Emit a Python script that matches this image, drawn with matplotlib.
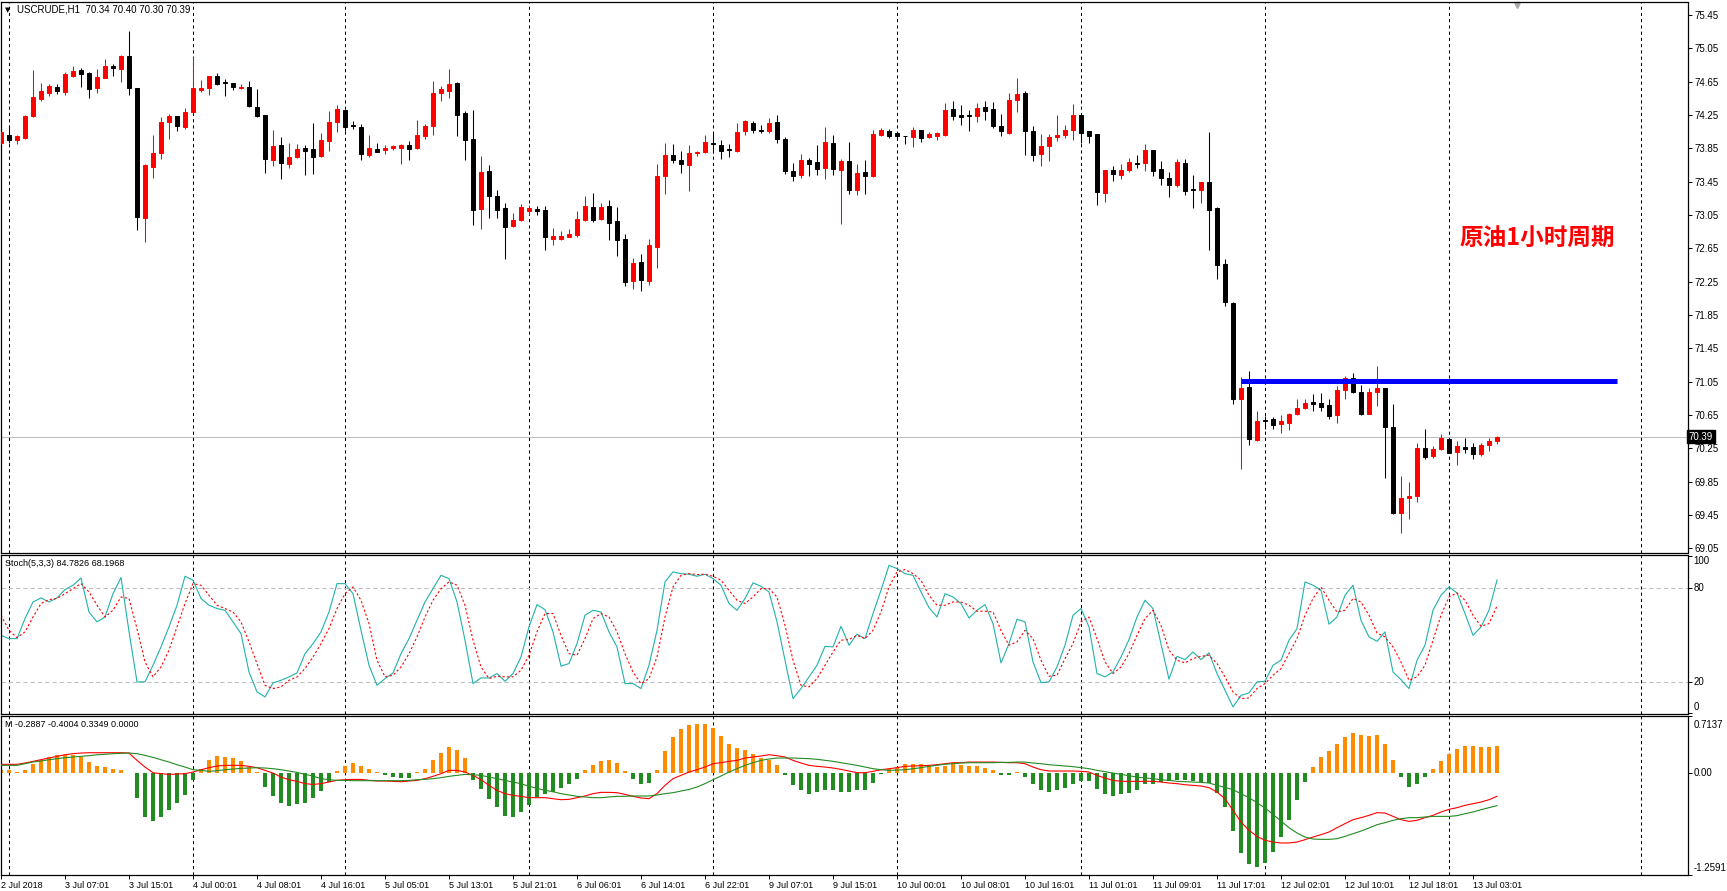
import numpy as np
import matplotlib
matplotlib.use("Agg")
import matplotlib.pyplot as plt
from matplotlib.transforms import blended_transform_factory

# USCRUDE H1 candles, 2 Jul 2018 .. 13 Jul 06:01 (one value per hourly bar)
opens = [73.913, 74.013, 73.943, 73.971, 74.231, 74.439, 74.511, 74.587, 74.523, 74.715,
         74.783, 74.755, 74.567, 74.691, 74.831, 74.799, 74.951, 74.567, 73.007, 73.623,
         73.787, 74.159, 74.239, 74.099, 74.279, 74.543, 74.567, 74.711, 74.639, 74.627,
         74.575, 74.587, 74.347, 74.251, 73.703, 73.883, 73.659, 73.739, 73.847, 73.835,
         73.751, 73.935, 74.159, 74.303, 74.123, 74.107, 73.763, 73.835, 73.831, 73.851,
         73.851, 73.883, 73.851, 73.995, 74.115, 74.515, 74.531, 74.627, 74.267, 73.963,
         73.115, 73.571, 73.271, 73.127, 72.915, 72.983, 73.091, 73.115, 73.111, 72.763,
         72.759, 72.787, 72.803, 72.987, 73.147, 72.995, 73.151, 72.971, 72.755, 72.255,
         72.479, 72.255, 72.663, 73.515, 73.763, 73.703, 73.647, 73.787, 73.807, 73.915,
         73.891, 73.835, 73.815, 74.051, 74.155, 74.063, 74.051, 74.159, 73.955, 73.579,
         73.527, 73.703, 73.679, 73.611, 73.915, 73.583, 73.699, 73.347, 73.559, 73.511,
         74.003, 74.051, 74.027, 73.999, 73.983, 74.071, 73.983, 73.995, 74.003, 74.315,
         74.243, 74.243, 74.235, 74.339, 74.315, 74.111, 74.035, 74.427, 74.507, 74.051,
         73.775, 73.875, 73.983, 74.003, 74.063, 74.243, 74.051, 74.015, 73.311, 73.583,
         73.527, 73.583, 73.671, 73.671, 73.823, 73.595, 73.487, 73.407, 73.667, 73.359,
         73.347, 73.439, 73.127, 72.455, 71.991, 70.838, 70.986, 70.346, 70.586, 70.598,
         70.546, 70.558, 70.662, 70.734, 70.806, 70.794, 70.770, 70.650, 70.950, 71.094,
         70.926, 70.666, 70.926, 70.974, 70.510, 69.473, 69.653, 69.677, 70.254, 70.158,
         70.242, 70.362, 70.210, 70.266, 70.266, 70.186, 70.290, 70.34]
highs = [74.050, 74.105, 74.003, 74.243, 74.783, 74.627, 74.615, 74.615, 74.763, 74.835,
         74.815, 74.763, 74.803, 74.915, 74.855, 74.963, 75.251, 74.575, 73.655, 74.003,
         74.223, 74.255, 74.239, 74.327, 74.943, 74.667, 74.711, 74.747, 74.675, 74.635,
         74.615, 74.651, 74.563, 74.251, 74.063, 73.979, 73.907, 73.895, 73.887, 74.155,
         74.035, 74.291, 74.363, 74.303, 74.171, 74.135, 74.003, 73.907, 73.891, 73.891,
         73.895, 73.939, 74.183, 74.143, 74.655, 74.595, 74.795, 74.643, 74.291, 74.303,
         73.751, 73.643, 73.343, 73.187, 73.067, 73.175, 73.167, 73.155, 73.155, 72.895,
         72.851, 72.875, 73.099, 73.271, 73.307, 73.187, 73.223, 73.139, 72.815, 72.527,
         72.575, 72.755, 73.655, 73.915, 73.903, 73.811, 73.887, 73.815, 74.003, 74.035,
         73.943, 73.903, 74.147, 74.187, 74.175, 74.123, 74.211, 74.243, 73.979, 73.675,
         73.775, 73.727, 73.883, 74.099, 74.003, 73.723, 73.927, 73.655, 73.703, 74.063,
         74.087, 74.075, 74.043, 73.999, 74.099, 74.071, 74.047, 74.043, 74.387, 74.419,
         74.363, 74.303, 74.387, 74.419, 74.399, 74.255, 74.507, 74.687, 74.531, 74.111,
         74.015, 74.015, 74.243, 74.123, 74.375, 74.255, 74.051, 74.015, 73.583, 73.635,
         73.655, 73.727, 73.763, 73.895, 73.823, 73.691, 73.559, 73.715, 73.715, 73.523,
         73.439, 74.043, 73.143, 72.515, 71.999, 71.110, 71.182, 70.698, 70.638, 70.626,
         70.650, 70.674, 70.842, 70.842, 70.902, 70.914, 70.842, 70.998, 71.118, 71.154,
         71.010, 70.974, 71.239, 70.974, 70.782, 69.917, 69.845, 70.314, 70.482, 70.278,
         70.422, 70.362, 70.338, 70.374, 70.314, 70.314, 70.374, 70.40]
lows = [73.895, 73.913, 73.903, 73.955, 74.227, 74.419, 74.471, 74.499, 74.483, 74.699,
        74.583, 74.451, 74.507, 74.687, 74.715, 74.643, 74.487, 72.867, 72.723, 73.487,
        73.715, 73.963, 74.051, 74.075, 74.271, 74.523, 74.491, 74.603, 74.471, 74.543,
        74.555, 74.343, 74.219, 73.551, 73.635, 73.479, 73.611, 73.727, 73.527, 73.539,
        73.743, 73.811, 74.043, 74.055, 74.075, 73.707, 73.743, 73.803, 73.783, 73.827,
        73.659, 73.707, 73.835, 73.955, 74.007, 74.415, 74.455, 73.995, 73.707, 72.927,
        72.875, 73.007, 73.007, 72.519, 72.903, 72.971, 73.043, 73.043, 72.627, 72.687,
        72.747, 72.779, 72.783, 72.975, 72.963, 72.983, 72.747, 72.555, 72.195, 72.159,
        72.135, 72.207, 72.411, 73.299, 73.667, 73.551, 73.335, 73.755, 73.795, 73.787,
        73.719, 73.743, 73.803, 74.003, 74.027, 74.027, 74.031, 73.907, 73.535, 73.455,
        73.487, 73.515, 73.527, 73.475, 73.527, 72.935, 73.303, 73.287, 73.299, 73.503,
        73.991, 73.971, 73.971, 73.895, 73.863, 73.919, 73.975, 73.947, 73.991, 74.183,
        74.127, 74.055, 74.159, 74.187, 74.095, 73.995, 74.019, 74.283, 73.763, 73.695,
        73.635, 73.691, 73.935, 73.971, 73.943, 73.907, 73.907, 73.167, 73.203, 73.455,
        73.475, 73.563, 73.611, 73.575, 73.515, 73.407, 73.263, 73.383, 73.287, 73.131,
        73.191, 72.627, 72.283, 71.951, 70.782, 70.001, 70.294, 70.338, 70.486, 70.486,
        70.438, 70.470, 70.646, 70.718, 70.702, 70.698, 70.602, 70.554, 70.842, 70.914,
        70.650, 70.666, 70.758, 69.897, 69.461, 69.237, 69.405, 69.609, 70.126, 70.138,
        70.234, 70.190, 70.050, 70.194, 70.126, 70.162, 70.222, 70.30]
closes = [74.041, 73.945, 73.995, 74.235, 74.459, 74.531, 74.591, 74.535, 74.735, 74.771,
          74.739, 74.559, 74.707, 74.831, 74.815, 74.951, 74.571, 73.023, 73.647, 73.787,
          74.159, 74.235, 74.115, 74.279, 74.567, 74.567, 74.711, 74.619, 74.631, 74.583,
          74.587, 74.351, 74.231, 73.719, 73.871, 73.671, 73.739, 73.835, 73.815, 73.743,
          73.943, 74.159, 74.315, 74.103, 74.111, 73.779, 73.847, 73.807, 73.851, 73.875,
          73.887, 73.839, 74.003, 74.115, 74.507, 74.559, 74.615, 74.247, 73.947, 73.107,
          73.559, 73.275, 73.107, 72.899, 72.983, 73.147, 73.127, 73.091, 72.783, 72.791,
          72.791, 72.815, 72.995, 73.159, 72.987, 73.139, 72.951, 72.747, 72.243, 72.467,
          72.267, 72.683, 73.511, 73.763, 73.707, 73.659, 73.787, 73.807, 73.927, 73.899,
          73.815, 73.827, 74.047, 74.171, 74.071, 74.051, 74.147, 73.959, 73.575, 73.515,
          73.711, 73.659, 73.599, 73.927, 73.599, 73.691, 73.347, 73.547, 73.515, 74.023,
          74.063, 73.995, 73.995, 73.991, 74.063, 73.971, 74.015, 74.027, 74.303, 74.235,
          74.227, 74.235, 74.327, 74.295, 74.111, 74.055, 74.423, 74.495, 74.055, 73.767,
          73.871, 73.983, 74.003, 74.063, 74.243, 74.031, 73.995, 73.323, 73.583, 73.539,
          73.583, 73.679, 73.659, 73.823, 73.575, 73.491, 73.407, 73.679, 73.335, 73.347,
          73.439, 73.107, 72.447, 71.999, 70.846, 70.974, 70.366, 70.574, 70.574, 70.534,
          70.574, 70.662, 70.734, 70.794, 70.786, 70.750, 70.638, 70.950, 71.094, 70.926,
          70.666, 70.926, 70.974, 70.510, 69.473, 69.653, 69.677, 70.254, 70.150, 70.242,
          70.374, 70.194, 70.278, 70.246, 70.186, 70.290, 70.338, 70.39]

# Stoch(5,3,3): %K (main) and %D (signal)
stoch_k = [49.5, 47.4, 47.4, 60.2, 70.8, 73.4, 70.8, 73.4, 78.7, 81.5, 86.1, 64.4, 58.1, 61.2,
           76.1, 86.4, 52.0, 19.8, 19.8, 30.4, 42.1, 54.9, 68.7, 87.2, 84.7, 73.0, 68.7, 66.6,
           65.5, 58.1, 50.6, 26.1, 13.4, 10.2, 19.1, 20.8, 22.9, 25.5, 37.8, 44.2, 51.7, 64.4,
           82.5, 82.5, 76.1, 52.7, 30.4, 17.6, 21.9, 25.5, 37.8, 47.4, 59.1, 70.8, 79.3, 87.8,
           85.7, 70.8, 46.4, 18.7, 22.3, 22.3, 25.1, 20.2, 25.1, 35.7, 54.9, 69.1, 65.9, 51.7,
           29.8, 31.5, 44.2, 62.3, 65.5, 64.4, 51.7, 42.1, 18.7, 18.7, 15.5, 30.4, 52.7, 83.6,
           90.0, 88.9, 88.5, 87.2, 88.5, 85.7, 81.5, 69.8, 65.5, 73.0, 83.0, 80.8, 77.2, 58.1,
           33.6, 9.1, 15.5, 22.9, 30.4, 42.5, 42.1, 55.3, 43.2, 50.2, 47.4, 63.4, 78.3, 94.2,
           92.1, 88.9, 87.8, 77.2, 67.2, 61.2, 76.1, 74.0, 69.8, 60.6, 65.5, 69.1, 57.0, 31.9,
           44.2, 59.8, 58.1, 32.5, 19.3, 19.8, 29.3, 43.2, 62.3, 66.6, 54.9, 25.1, 23.0, 26.1,
           35.7, 46.8, 61.2, 71.9, 66.6, 44.2, 21.5, 36.1, 34.0, 38.9, 34.0, 38.3, 25.1, 14.4,
           3.8, 11.2, 12.7, 19.8, 20.2, 30.4, 33.6, 46.4, 53.8, 83.6, 81.5, 78.3, 56.6, 61.2,
           75.1, 81.5, 59.1, 48.5, 45.7, 51.7, 26.1, 21.2, 15.5, 33.6, 43.2, 65.5, 75.1, 80.4,
           76.6, 63.4, 49.5, 54.9, 65.5, 84.8]
stoch_d = [62.3, 52.7, 48.0, 51.7, 61.2, 69.8, 72.3, 73.0, 76.1, 79.3, 82.5, 77.2, 68.7, 61.2,
           65.5, 74.0, 73.0, 53.8, 32.5, 23.0, 29.3, 40.0, 54.9, 69.8, 82.5, 81.5, 75.1, 68.7,
           66.6, 64.4, 58.1, 45.3, 31.5, 17.6, 15.5, 16.6, 20.8, 22.9, 28.3, 35.7, 44.2, 53.8,
           66.6, 76.1, 80.4, 71.9, 57.0, 33.6, 23.0, 24.0, 29.3, 37.8, 48.5, 61.2, 71.9, 79.3,
           83.6, 81.5, 68.7, 46.4, 29.3, 21.9, 23.4, 23.0, 23.0, 27.2, 36.8, 51.7, 63.4, 63.4,
           49.5, 37.8, 36.8, 47.4, 60.2, 63.4, 61.2, 51.7, 37.8, 26.1, 18.7, 21.9, 35.7, 61.2,
           80.4, 87.8, 88.9, 88.3, 88.5, 87.2, 84.7, 78.3, 71.9, 69.8, 74.0, 79.3, 79.3, 74.0,
           55.9, 33.6, 17.6, 16.6, 21.9, 30.4, 38.9, 46.4, 46.8, 49.5, 47.4, 52.7, 64.4, 80.4,
           90.0, 91.5, 88.9, 84.7, 75.1, 68.7, 68.7, 70.8, 70.8, 68.7, 64.9, 64.9, 64.4, 52.7,
           43.2, 45.3, 52.7, 47.4, 33.6, 23.4, 24.0, 34.7, 44.2, 58.1, 61.2, 47.4, 32.5, 25.1,
           29.3, 37.8, 49.5, 60.2, 65.5, 55.9, 40.0, 33.6, 31.9, 34.7, 36.1, 36.8, 31.5, 23.0,
           13.4, 9.1, 9.5, 15.5, 18.7, 24.0, 28.3, 37.8, 47.4, 62.3, 73.0, 80.4, 71.9, 64.4,
           65.5, 73.0, 70.8, 62.3, 51.0, 48.5, 42.1, 32.5, 20.8, 23.0, 30.4, 46.4, 62.3, 74.0,
           76.6, 71.9, 62.3, 55.3, 57.0, 68.2]

# MACD-style panel: main line, signal line, histogram
macd_main = [0.108, 0.108, 0.108, 0.124, 0.145, 0.165, 0.186, 0.207, 0.227, 0.240, 0.248, 0.252,
             0.252, 0.252, 0.252, 0.252, 0.248, 0.157, 0.074, 0.004, -0.008, -0.017, -0.012, -0.008,
             0.012, 0.041, 0.066, 0.087, 0.095, 0.095, 0.095, 0.083, 0.066, 0.033, 0.000, -0.050,
             -0.083, -0.103, -0.132, -0.141, -0.132, -0.112, -0.091, -0.083, -0.079, -0.079, -0.091,
             -0.099, -0.099, -0.103, -0.108, -0.099, -0.091, -0.070, -0.041, -0.008, 0.033, 0.033,
             0.012, -0.029, -0.083, -0.153, -0.215, -0.256, -0.277, -0.289, -0.306, -0.306, -0.306,
             -0.318, -0.331, -0.327, -0.306, -0.285, -0.256, -0.240, -0.240, -0.244, -0.265, -0.289,
             -0.310, -0.318, -0.256, -0.153, -0.070, -0.029, 0.012, 0.041, 0.074, 0.116, 0.128,
             0.145, 0.157, 0.186, 0.199, 0.211, 0.227, 0.215, 0.199, 0.157, 0.124, 0.095, 0.083,
             0.074, 0.062, 0.045, 0.025, 0.004, 0.004, 0.021, 0.041, 0.054, 0.066, 0.083, 0.087,
             0.091, 0.095, 0.103, 0.116, 0.128, 0.128, 0.136, 0.136, 0.136, 0.136, 0.132, 0.128,
             0.128, 0.116, 0.074, 0.041, 0.025, 0.025, 0.025, 0.025, 0.021, 0.012, -0.029, -0.062,
             -0.091, -0.103, -0.103, -0.103, -0.103, -0.103, -0.112, -0.124, -0.132, -0.145, -0.153,
             -0.161, -0.182, -0.236, -0.318, -0.463, -0.608, -0.711, -0.786, -0.835, -0.856, -0.868,
             -0.868, -0.856, -0.827, -0.794, -0.765, -0.732, -0.678, -0.629, -0.579, -0.554, -0.525,
             -0.492, -0.496, -0.538, -0.579, -0.600, -0.587, -0.554, -0.525, -0.484, -0.451, -0.430,
             -0.401, -0.380, -0.360, -0.331, -0.289]
macd_signal = [0.095, 0.095, 0.095, 0.116, 0.136, 0.149, 0.165, 0.178, 0.190, 0.199, 0.207, 0.215,
               0.227, 0.232, 0.240, 0.244, 0.248, 0.240, 0.219, 0.194, 0.165, 0.136, 0.103, 0.074,
               0.041, 0.033, 0.021, 0.029, 0.041, 0.050, 0.058, 0.062, 0.066, 0.062, 0.054, 0.041,
               0.025, 0.008, -0.017, -0.037, -0.070, -0.083, -0.091, -0.091, -0.095, -0.095, -0.095,
               -0.095, -0.095, -0.095, -0.095, -0.091, -0.083, -0.079, -0.070, -0.058, -0.041, -0.029,
               -0.017, -0.021, -0.029, -0.050, -0.070, -0.091, -0.112, -0.132, -0.165, -0.190, -0.215,
               -0.232, -0.256, -0.273, -0.289, -0.298, -0.306, -0.306, -0.298, -0.289, -0.289, -0.285,
               -0.285, -0.285, -0.273, -0.256, -0.244, -0.223, -0.203, -0.174, -0.132, -0.083, -0.037,
               0.012, 0.054, 0.095, 0.128, 0.157, 0.174, 0.186, 0.186, 0.186, 0.182, 0.178, 0.170,
               0.157, 0.145, 0.128, 0.112, 0.095, 0.074, 0.054, 0.041, 0.033, 0.037, 0.041, 0.054,
               0.066, 0.083, 0.095, 0.108, 0.116, 0.124, 0.128, 0.128, 0.128, 0.128, 0.132, 0.132,
               0.136, 0.136, 0.124, 0.116, 0.103, 0.095, 0.087, 0.079, 0.066, 0.054, 0.033, 0.017,
               0.000, -0.017, -0.033, -0.050, -0.062, -0.070, -0.083, -0.091, -0.103, -0.108, -0.112,
               -0.116, -0.124, -0.153, -0.178, -0.207, -0.256, -0.306, -0.368, -0.434, -0.513, -0.596,
               -0.678, -0.744, -0.794, -0.819, -0.823, -0.823, -0.815, -0.786, -0.753, -0.720, -0.682,
               -0.641, -0.616, -0.587, -0.567, -0.554, -0.554, -0.546, -0.538, -0.538, -0.538, -0.529,
               -0.505, -0.484, -0.455, -0.430, -0.405]
macd_hist = [0.041, 0.041, 0.008, 0.041, 0.108, 0.157, 0.199, 0.219, 0.227, 0.227, 0.199, 0.136,
             0.083, 0.074, 0.045, 0.033, 0.004, -0.310, -0.546, -0.596, -0.546, -0.463, -0.372, -0.277,
             -0.091, 0.054, 0.157, 0.207, 0.199, 0.186, 0.145, 0.074, 0.008, -0.174, -0.285, -0.372,
             -0.409, -0.380, -0.372, -0.310, -0.227, -0.112, 0.021, 0.083, 0.124, 0.083, 0.045,
             0.008, -0.029, -0.050, -0.062, -0.062, 0.012, 0.045, 0.157, 0.248, 0.323, 0.281,
             0.186, -0.083, -0.203, -0.327, -0.422, -0.538, -0.546, -0.484, -0.401, -0.298, -0.256,
             -0.236, -0.186, -0.141, -0.079, 0.033, 0.095, 0.145, 0.157, 0.128, 0.021, -0.070,
             -0.132, -0.124, 0.041, 0.269, 0.447, 0.542, 0.591, 0.604, 0.604, 0.558, 0.455, 0.356,
             0.310, 0.281, 0.240, 0.190, 0.165, 0.095, -0.021, -0.153, -0.215, -0.256, -0.236,
             -0.215, -0.215, -0.236, -0.236, -0.215, -0.215, -0.124, -0.008, 0.054, 0.074, 0.116,
             0.116, 0.116, 0.095, 0.074, 0.083, 0.108, 0.095, 0.083, 0.083, 0.066, 0.041, -0.021,
             -0.021, 0.012, -0.050, -0.141, -0.215, -0.236, -0.215, -0.186, -0.132, -0.103, -0.103,
             -0.194, -0.256, -0.285, -0.256, -0.248, -0.215, -0.132, -0.132, -0.112, -0.103, -0.083,
             -0.083, -0.103, -0.112, -0.124, -0.248, -0.422, -0.720, -0.993, -1.133, -1.166, -1.117,
             -0.980, -0.794, -0.579, -0.339, -0.112, 0.074, 0.199, 0.273, 0.364, 0.447, 0.492, 0.467,
             0.459, 0.467, 0.364, 0.157, -0.050, -0.174, -0.132, -0.050, 0.045, 0.145, 0.240, 0.302,
             0.335, 0.335, 0.323, 0.323, 0.335]

# time axis labels (every 8th bar) and bars where a new day starts
label_bars = list(range(0, 188, 8))
label_texts = ["2 Jul 2018", "3 Jul 07:01", "3 Jul 15:01", "4 Jul 00:01", "4 Jul 08:01",
               "4 Jul 16:01", "5 Jul 05:01", "5 Jul 13:01", "5 Jul 21:01", "6 Jul 06:01",
               "6 Jul 14:01", "6 Jul 22:01", "9 Jul 07:01", "9 Jul 15:01", "10 Jul 00:01",
               "10 Jul 08:01", "10 Jul 16:01", "11 Jul 01:01", "11 Jul 09:01", "11 Jul 17:01",
               "12 Jul 02:01", "12 Jul 10:01", "12 Jul 18:01", "13 Jul 03:01"]
day_starts = [1, 24, 43, 66, 89, 112, 135, 158, 181, 205]

resistance = 71.055
resistance_span = (155, 202)
last_price = 70.39

W, H = 1727, 891
FONT = ["Liberation Sans", "DejaVu Sans"]
plt.rcParams["font.family"] = FONT

fig = plt.figure(figsize=(W / 100, H / 100), dpi=100)


def px_axes(x0, y0, x1, y1):
    # axes placed by pixel box (top-left origin)
    ax = fig.add_axes([x0 / W, 1 - y1 / H, (x1 - x0) / W, (y1 - y0) / H])
    ax.set_xlim((x0 - 1) / 8, (x1 - 1) / 8)
    for s in ax.spines.values():
        s.set_linewidth(0.9)
        s.set_color("black")
    ax.set_facecolor("white")
    return ax


ax1 = px_axes(0.5, 1.5, 1687.5, 553)
ax2 = px_axes(0.5, 554.5, 1687.5, 713.5)
ax3 = px_axes(0.5, 715.5, 1687.5, 874.5)

idx = np.arange(len(closes))
o = np.array(opens)
c = np.array(closes)
up = c >= o
col = np.where(up, "#FF0000", "#000000")

# --- price panel ---
ax1.set_ylim(68.992, 75.611)
ax1.axhline(last_price, color="#C0C0C0", lw=0.8, zorder=1)
ax1.vlines(idx, lows, highs, colors=col, lw=0.75, zorder=3)
ax1.bar(idx, np.abs(c - o), bottom=np.minimum(o, c), width=0.5, color=col,
        edgecolor=col, linewidth=0.7, zorder=4)
ax1.hlines(resistance, *resistance_span, color="#0000FF", lw=3.6, zorder=5)
ax1.text(192, 72.78, "原油1小时周期", ha="center", va="center", color="#FF0000",
         fontsize=17, fontweight="bold", family=["Noto Sans CJK SC", "DejaVu Sans"])
price_ticks = np.arange(69.05, 75.46, 0.4)
ax1.set_yticks(price_ticks)
ax1.set_yticklabels([f"{v:.2f}" for v in price_ticks])
tr = blended_transform_factory(ax1.transAxes, ax1.transData)
ax1.text(1.0008, last_price, f"{last_price:.2f}", transform=tr, color="white", fontsize=7,
         va="center", ha="left", bbox=dict(facecolor="black", edgecolor="black", pad=1.2),
         zorder=10)
ax1.plot([189.5], [0.993], marker="v", ms=5, color="#A8A8A8", clip_on=False,
         transform=blended_transform_factory(ax1.transData, ax1.transAxes))

# --- stochastic panel ---
ax2.set_ylim(-0.4, 101.1)
for lvl in (20, 80):
    ax2.axhline(lvl, color="#BEBEBE", lw=0.75, ls=(0, (4, 3)))
ax2.plot(idx, stoch_k, color="#20B2AA", lw=0.8)
ax2.plot(idx, stoch_d, color="#FF0000", lw=0.8, ls=(0, (2, 2)))
ax2.set_yticks([0, 20, 80, 100])
ax2.set_yticklabels([])
tr2 = blended_transform_factory(ax2.transAxes, ax2.transData)
for v, txt in [(96.8, "100"), (80, "80"), (20, "20"), (4.0, "0")]:
    ax2.text(1.0035, v, txt, transform=tr2, fontsize=7, va="center", ha="left")

# --- MACD panel ---
ax3.set_ylim(-1.2591, 0.7137)
h = np.array(macd_hist)
hcol = np.where(h >= 0, "#FF8C00", "#228B22")
ax3.bar(idx, h, width=0.42, color=hcol, zorder=2)
ax3.plot(idx, macd_main, color="#FF0000", lw=0.8, zorder=3)
ax3.plot(idx, macd_signal, color="#228B22", lw=0.8, zorder=3)
ax3.set_yticks([-1.2591, 0.0, 0.7137])
ax3.set_yticklabels([])
tr3 = blended_transform_factory(ax3.transAxes, ax3.transData)
for v, txt in [(0.60, "0.7137"), (0.0, "0.00"), (-1.18, "-1.2591")]:
    ax3.text(1.0035, v, txt, transform=tr3, fontsize=7, va="center", ha="left")

for ax in (ax1, ax2, ax3):
    for d in day_starts:
        ax.axvline(d, color="black", lw=0.75, ls=(0, (3, 3)), zorder=1.5)
    ax.yaxis.tick_right()
    ax.tick_params(axis="y", direction="out", length=3, width=0.7, labelsize=7, pad=2)
    ax.tick_params(axis="x", bottom=False, labelbottom=False)

ax3.set_xticks(label_bars)
ax3.set_xticklabels(label_texts)
ax3.tick_params(axis="x", bottom=True, labelbottom=True, direction="out", length=3,
                width=0.7, labelsize=6.5, pad=1.5)
for lbl in ax3.get_xticklabels():
    lbl.set_ha("left")

# panel captions
fig.text(5 / W, 1 - 10 / H, "▼", fontsize=5, va="center", ha="left", family=["DejaVu Sans"])
fig.text(17 / W, 1 - 10 / H, "USCRUDE,H1  70.34 70.40 70.30 70.39", fontsize=7,
         va="center", ha="left")
fig.text(5 / W, 1 - 563.5 / H, "Stoch(5,3,3) 84.7826 68.1968", fontsize=6.5,
         va="center", ha="left")
fig.text(5 / W, 1 - 724.5 / H, "M -0.2887 -0.4004 0.3349 0.0000", fontsize=6.5,
         va="center", ha="left")

fig.savefig("out.png", dpi=100, facecolor="white")
